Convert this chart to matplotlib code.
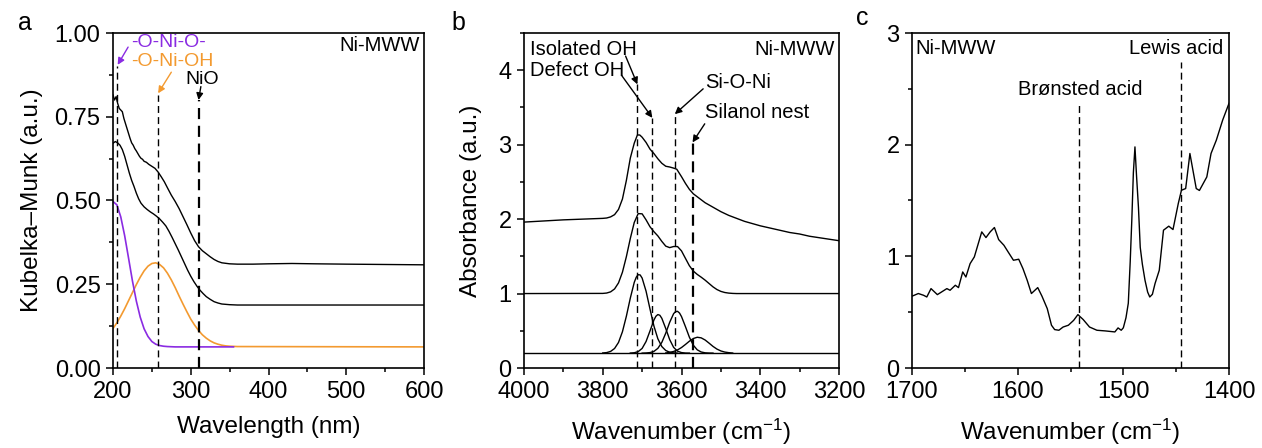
import matplotlib
matplotlib.use("Agg")
import matplotlib.pyplot as plt
from matplotlib.ticker import MultipleLocator, FormatStrFormatter

plt.rcParams['font.family'] = ['Liberation Sans', 'DejaVu Sans']
plt.rcParams['mathtext.fontset'] = 'custom'
plt.rcParams['mathtext.rm'] = 'Liberation Sans'
plt.rcParams['mathtext.it'] = 'Liberation Sans:italic'

# ---------- panel a : UV-vis (Kubelka-Munk) ----------
a_top_x = [200, 202, 204, 206, 208, 210, 212, 214, 216, 218, 220, 222, 224, 226, 228, 230,
           232, 234, 236, 238, 240, 243, 246, 250, 254, 258, 262, 266, 270, 275, 280, 285,
           290, 295, 300, 305, 310, 315, 320, 325, 330, 335, 340, 350, 360, 380, 400, 430,
           460, 500, 550, 600]
a_top_y = [0.815, 0.800, 0.810, 0.790, 0.775, 0.770, 0.765, 0.745, 0.730, 0.715, 0.700, 0.685,
           0.672, 0.665, 0.655, 0.648, 0.640, 0.632, 0.626, 0.623, 0.617, 0.614, 0.608, 0.602,
           0.596, 0.585, 0.571, 0.556, 0.538, 0.516, 0.497, 0.476, 0.452, 0.428, 0.403, 0.380,
           0.362, 0.350, 0.341, 0.332, 0.324, 0.318, 0.314, 0.311, 0.310, 0.310, 0.311, 0.312,
           0.311, 0.310, 0.309, 0.308]

a_mid_x = [200, 203, 206, 209, 212, 215, 218, 221, 224, 227, 230, 233, 236, 240, 244, 248,
           252, 256, 260, 264, 268, 272, 276, 280, 284, 288, 292, 296, 300, 304, 308, 312,
           316, 320, 325, 330, 335, 340, 350, 360, 600]
a_mid_y = [0.671, 0.676, 0.672, 0.665, 0.652, 0.632, 0.607, 0.582, 0.560, 0.542, 0.522, 0.505,
           0.492, 0.481, 0.473, 0.466, 0.460, 0.453, 0.445, 0.435, 0.424, 0.408, 0.390, 0.371,
           0.352, 0.332, 0.312, 0.292, 0.274, 0.258, 0.244, 0.232, 0.222, 0.213, 0.205, 0.198,
           0.194, 0.191, 0.189, 0.188, 0.188]

a_purple_x = [200, 205, 210, 215, 220, 225, 230, 235, 240, 245, 250, 255, 260, 265, 270, 280, 355]
a_purple_y = [0.497, 0.487, 0.451, 0.395, 0.328, 0.260, 0.200, 0.152, 0.117, 0.094, 0.079,
              0.071, 0.067, 0.065, 0.064, 0.063, 0.063]

a_orange_x = [200, 205, 210, 215, 220, 225, 230, 235, 240, 245, 250, 255, 260, 265, 270, 275,
              280, 285, 290, 295, 300, 305, 310, 315, 320, 325, 330, 335, 340, 345, 350, 360, 600]
a_orange_y = [0.118, 0.135, 0.155, 0.177, 0.201, 0.225, 0.249, 0.271, 0.290, 0.304, 0.312,
              0.314, 0.309, 0.299, 0.283, 0.263, 0.240, 0.215, 0.191, 0.168, 0.146, 0.128,
              0.112, 0.099, 0.089, 0.081, 0.075, 0.071, 0.068, 0.066, 0.065, 0.064, 0.063]

a_marks = [205, 258, 310]
a_mark_tops = [0.90, 0.815, 0.80]

# ---------- panel b : OH region ----------
b_top_x = [4000, 3950, 3900, 3850, 3800, 3790, 3780, 3770, 3760, 3750, 3740, 3730, 3720, 3712,
           3706, 3700, 3690, 3680, 3670, 3660, 3650, 3640, 3630, 3620, 3612, 3600, 3590, 3580,
           3570, 3560, 3550, 3540, 3520, 3500, 3480, 3460, 3440, 3420, 3400, 3375, 3350, 3325,
           3300, 3275, 3250, 3225, 3200]
b_top_y = [1.96, 1.975, 1.99, 2.00, 2.01, 2.015, 2.03, 2.06, 2.13, 2.27, 2.52, 2.82, 3.02, 3.13,
           3.13, 3.10, 3.03, 2.94, 2.88, 2.81, 2.75, 2.71, 2.70, 2.685, 2.67, 2.57, 2.48, 2.40,
           2.34, 2.30, 2.26, 2.22, 2.16, 2.10, 2.05, 2.01, 1.97, 1.94, 1.91, 1.88, 1.85, 1.82,
           1.80, 1.77, 1.75, 1.73, 1.71]

b_mid_x = [4000, 3800, 3790, 3780, 3770, 3760, 3750, 3740, 3730, 3720, 3710, 3700, 3690, 3680,
           3670, 3660, 3650, 3640, 3630, 3620, 3610, 3600, 3590, 3580, 3570, 3560, 3550, 3540,
           3530, 3520, 3510, 3500, 3490, 3480, 3470, 3460, 3200]
b_mid_y = [1.0, 1.002, 1.007, 1.023, 1.062, 1.143, 1.287, 1.496, 1.740, 1.955, 2.074, 2.071,
           1.990, 1.897, 1.831, 1.774, 1.701, 1.637, 1.617, 1.632, 1.631, 1.573, 1.473, 1.374,
           1.302, 1.257, 1.220, 1.180, 1.135, 1.090, 1.054, 1.029, 1.014, 1.006, 1.002, 1.0, 1.0]

b_base_x = [4000, 3200]
b_base_y = [0.2, 0.2]

b_c1_x = [3800, 3790, 3780, 3770, 3760, 3750, 3740, 3730, 3720, 3715, 3710, 3705, 3700, 3690,
          3680, 3670, 3660, 3650, 3640, 3630, 3620, 3610]
b_c1_y = [0.202, 0.207, 0.223, 0.262, 0.343, 0.487, 0.696, 0.939, 1.150, 1.219, 1.254, 1.250,
          1.208, 1.032, 0.792, 0.563, 0.392, 0.288, 0.235, 0.212, 0.203, 0.200]

b_c2_x = [3730, 3720, 3710, 3700, 3690, 3680, 3670, 3665, 3660, 3655, 3650, 3640, 3630, 3620,
          3610, 3600, 3590, 3580]
b_c2_y = [0.201, 0.205, 0.220, 0.263, 0.356, 0.498, 0.645, 0.695, 0.718, 0.708, 0.668, 0.530,
          0.381, 0.277, 0.226, 0.207, 0.201, 0.200]

b_c3_x = [3700, 3690, 3680, 3670, 3660, 3650, 3640, 3630, 3620, 3615, 3610, 3605, 3600, 3590,
          3580, 3570, 3560, 3550, 3540, 3530, 3520]
b_c3_y = [0.200, 0.202, 0.207, 0.223, 0.264, 0.344, 0.468, 0.614, 0.730, 0.758, 0.761, 0.738,
          0.691, 0.556, 0.414, 0.306, 0.244, 0.215, 0.204, 0.201, 0.200]

b_c4_x = [3640, 3630, 3620, 3610, 3600, 3590, 3580, 3570, 3560, 3550, 3540, 3530, 3520, 3510,
          3500, 3490, 3480, 3470]
b_c4_y = [0.202, 0.210, 0.222, 0.243, 0.275, 0.316, 0.360, 0.396, 0.413, 0.405, 0.376, 0.334,
          0.290, 0.254, 0.229, 0.214, 0.206, 0.201]

b_marks = [3712, 3674, 3617, 3572]
b_mark_tops = [3.81, 3.36, 3.41, 3.03]

# ---------- panel c : pyridine IR ----------
c_x = [1700, 1694, 1689, 1686, 1682, 1676, 1672, 1667, 1664, 1659, 1656, 1652, 1649, 1645,
       1641, 1634, 1630, 1626, 1622, 1618, 1613, 1609, 1604, 1599, 1595, 1591, 1587, 1581,
       1577, 1572, 1568, 1565, 1561, 1557, 1552, 1547, 1543, 1538, 1532, 1525, 1517, 1508,
       1505, 1502, 1500, 1497.5, 1495.3, 1493.5, 1492, 1490.5, 1489, 1487.5, 1485.7, 1484,
       1482, 1479.5, 1477, 1475, 1472.5, 1470, 1466, 1462, 1457, 1453, 1448, 1445, 1441,
       1437, 1434.5, 1431, 1428, 1421, 1417, 1412, 1406, 1400]
c_y = [0.643, 0.667, 0.651, 0.636, 0.711, 0.657, 0.681, 0.711, 0.696, 0.741, 0.720, 0.860,
       0.815, 0.935, 0.995, 1.219, 1.168, 1.219, 1.258, 1.150, 1.099, 1.039, 0.965, 0.974,
       0.890, 0.786, 0.667, 0.720, 0.643, 0.532, 0.383, 0.344, 0.338, 0.367, 0.383, 0.427,
       0.478, 0.434, 0.367, 0.338, 0.332, 0.323, 0.359, 0.338, 0.360, 0.45, 0.58, 0.95,
       1.32, 1.75, 1.98, 1.72, 1.44, 1.08, 0.93, 0.786, 0.68, 0.636, 0.66, 0.756, 0.875,
       1.234, 1.270, 1.240, 1.473, 1.592, 1.607, 1.921, 1.79, 1.607, 1.590, 1.711, 1.921,
       2.040, 2.220, 2.370]

c_marks = [1541.5, 1445.7]
c_mark_tops = [2.38, 2.74]

purple = '#8a2be2'
orange = '#f39a30'
W, H = 1262, 448
tick_fs = 17
label_fs = 17.5
note_fs = 14.5
note_fs_a = 14

fig = plt.figure(figsize=(W / 100, H / 100), dpi=100)
ax_a = fig.add_axes([113 / W, 80 / H, 311 / W, 335 / H])
ax_b = fig.add_axes([524 / W, 80 / H, 315 / W, 335 / H])
ax_c = fig.add_axes([912 / W, 80 / H, 317 / W, 335 / H])

for ax in (ax_a, ax_b, ax_c):
    for s in ax.spines.values():
        s.set_linewidth(1.2)
    ax.tick_params(which='both', direction='out', top=False, right=False,
                   labelsize=tick_fs, width=1.1)
    ax.tick_params(which='major', length=5, pad=4)
    ax.tick_params(which='minor', length=3)

dash = (0, (5, 3))

# panel a
ax_a.plot(a_top_x, a_top_y, color='black', lw=1.0)
ax_a.plot(a_mid_x, a_mid_y, color='black', lw=1.0)
ax_a.plot(a_orange_x, a_orange_y, color=orange, lw=1.2)
ax_a.plot(a_purple_x, a_purple_y, color=purple, lw=1.2)
for i, (m, t) in enumerate(zip(a_marks, a_mark_tops)):
    ax_a.plot([m, m], [0, t], color='black', lw=1.6 if i == 2 else 1.0, linestyle=dash)
ax_a.set_xlim(200, 600)
ax_a.set_ylim(0, 1.0)
ax_a.xaxis.set_major_locator(MultipleLocator(100))
ax_a.xaxis.set_minor_locator(MultipleLocator(50))
ax_a.yaxis.set_major_locator(MultipleLocator(0.25))
ax_a.yaxis.set_minor_locator(MultipleLocator(0.125))
ax_a.yaxis.set_major_formatter(FormatStrFormatter('%.2f'))
ax_a.set_xlabel('Wavelength (nm)', fontsize=label_fs, labelpad=10)
ax_a.set_ylabel('Kubelka–Munk (a.u.)', fontsize=label_fs, labelpad=8)
ax_a.text(0.985, 0.962, 'Ni-MWW', transform=ax_a.transAxes, ha='right', va='center',
          fontsize=note_fs)
ax_a.annotate('-O-Ni-O-', xy=(206, 0.905), xytext=(223, 0.972), color=purple,
              fontsize=note_fs_a, ha='left', va='center',
              arrowprops=dict(arrowstyle='-|>', color=purple, lw=1.0, mutation_scale=10,
                              shrinkA=0, shrinkB=0, relpos=(0, 0.5)))
ax_a.text(223, 0.915, '-O-Ni-OH', color=orange, fontsize=note_fs_a, ha='left', va='center')
ax_a.annotate('', xy=(258, 0.82), xytext=(275, 0.883),
              arrowprops=dict(arrowstyle='-|>', color=orange, lw=1.0, mutation_scale=10,
                              shrinkA=0, shrinkB=0))
ax_a.text(293, 0.86, 'NiO', color='black', fontsize=note_fs_a, ha='left', va='center')
ax_a.annotate('', xy=(310, 0.80), xytext=(313, 0.84),
              arrowprops=dict(arrowstyle='-|>', color='black', lw=1.0, mutation_scale=10,
                              shrinkA=0, shrinkB=0))
fig.text(25 / W, 1 - 23 / H, 'a', fontsize=18, ha='center', va='center')

# panel b
ax_b.plot(b_top_x, b_top_y, color='black', lw=1.0)
ax_b.plot(b_mid_x, b_mid_y, color='black', lw=1.0)
ax_b.plot(b_base_x, b_base_y, color='black', lw=1.0)
for cx, cy in ((b_c1_x, b_c1_y), (b_c2_x, b_c2_y), (b_c3_x, b_c3_y), (b_c4_x, b_c4_y)):
    ax_b.plot(cx, cy, color='black', lw=1.0)
for i, (m, t) in enumerate(zip(b_marks, b_mark_tops)):
    ax_b.plot([m, m], [0, t], color='black', lw=1.6 if i == 3 else 1.0, linestyle=dash)
ax_b.set_xlim(4000, 3200)
ax_b.set_ylim(0, 4.5)
ax_b.xaxis.set_major_locator(MultipleLocator(200))
ax_b.xaxis.set_minor_locator(MultipleLocator(100))
ax_b.yaxis.set_major_locator(MultipleLocator(1))
ax_b.yaxis.set_minor_locator(MultipleLocator(0.5))
ax_b.set_xlabel(r'Wavenumber (cm$^{-1}$)', fontsize=label_fs, labelpad=10)
ax_b.set_ylabel('Absorbance (a.u.)', fontsize=label_fs, labelpad=12)
ax_b.text(0.985, 0.952, 'Ni-MWW', transform=ax_b.transAxes, ha='right', va='center',
          fontsize=note_fs)
arrow_k = dict(arrowstyle='-|>', color='black', lw=1.0, mutation_scale=10, shrinkA=0, shrinkB=0)
ax_b.text(3985, 4.28, 'Isolated OH', fontsize=note_fs, ha='left', va='center')
ax_b.text(3985, 4.0, 'Defect OH', fontsize=note_fs, ha='left', va='center')
ax_b.text(3540, 3.84, 'Si-O-Ni', fontsize=note_fs, ha='left', va='center')
ax_b.text(3540, 3.43, 'Silanol nest', fontsize=note_fs, ha='left', va='center')
ax_b.annotate('', xy=(3712, 3.81), xytext=(3742, 4.19), arrowprops=arrow_k)
ax_b.annotate('', xy=(3674, 3.36), xytext=(3752, 3.93), arrowprops=arrow_k)
ax_b.annotate('', xy=(3617, 3.41), xytext=(3545, 3.75), arrowprops=arrow_k)
ax_b.annotate('', xy=(3572, 3.03), xytext=(3541, 3.28), arrowprops=arrow_k)
fig.text(458 / W, 1 - 23 / H, 'b', fontsize=18, ha='center', va='center')

# panel c
ax_c.plot(c_x, c_y, color='black', lw=1.0)
for m, t in zip(c_marks, c_mark_tops):
    ax_c.plot([m, m], [0, t], color='black', lw=1.0, linestyle=dash)
ax_c.set_xlim(1700, 1400)
ax_c.set_ylim(0, 3)
ax_c.xaxis.set_major_locator(MultipleLocator(100))
ax_c.xaxis.set_minor_locator(MultipleLocator(50))
ax_c.yaxis.set_major_locator(MultipleLocator(1))
ax_c.yaxis.set_minor_locator(MultipleLocator(0.5))
ax_c.set_xlabel(r'Wavenumber (cm$^{-1}$)', fontsize=label_fs, labelpad=10)
ax_c.text(1697, 2.86, 'Ni-MWW', fontsize=note_fs, ha='left', va='center')
ax_c.text(1405, 2.86, 'Lewis acid', fontsize=note_fs, ha='right', va='center')
ax_c.text(1541, 2.49, 'Brønsted acid', fontsize=note_fs, ha='center', va='center')
fig.text(862 / W, 1 - 18 / H, 'c', fontsize=18, ha='center', va='center')

fig.savefig('out.png', dpi=100)
